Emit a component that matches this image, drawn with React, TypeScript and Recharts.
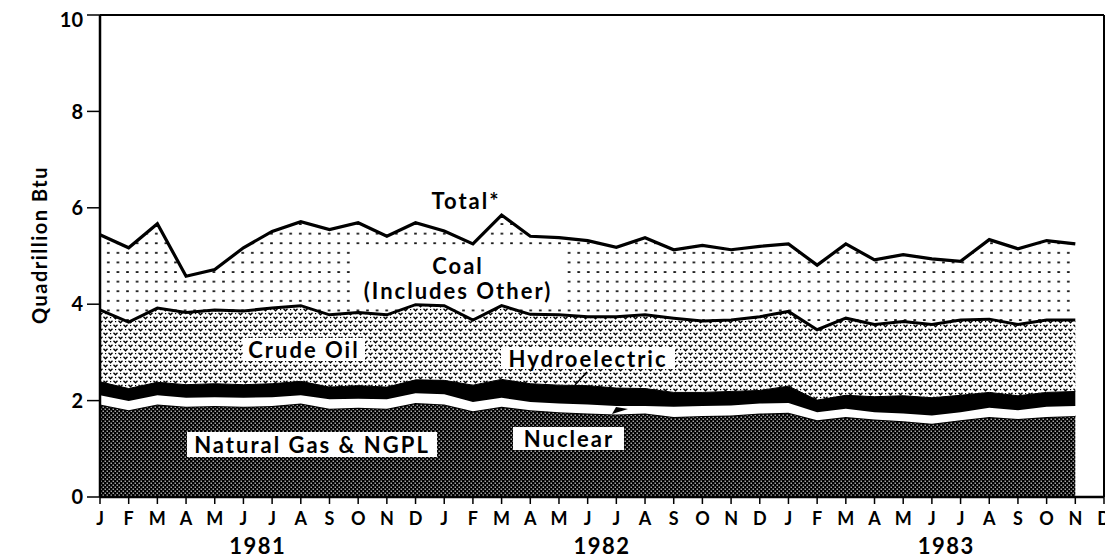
import { AreaChart, Area, XAxis, YAxis, ReferenceLine } from 'recharts'

// month letters along the bottom, year labels under the middle of each year
const MONTH_LETTERS = ['J', 'F', 'M', 'A', 'M', 'J', 'J', 'A', 'S', 'O', 'N', 'D']
const YEARS = ['1981', '1982', '1983']
const Y_TICKS = [0, 2, 4, 6, 8, 10]

// monthly values, Jan 1981 .. Nov 1983 (quadrillion Btu)
const NATURAL_GAS = [
  1.92, 1.80, 1.92, 1.87, 1.89, 1.87, 1.89, 1.94, 1.83, 1.85, 1.83, 1.95,
  1.92, 1.78, 1.87, 1.80, 1.76, 1.73, 1.71, 1.73, 1.66, 1.68, 1.69, 1.73,
  1.75, 1.59, 1.66, 1.61, 1.57, 1.52, 1.59, 1.66, 1.62, 1.66, 1.68,
]
const NUCLEAR = [
  0.19, 0.19, 0.19, 0.19, 0.18, 0.19, 0.18, 0.17, 0.20, 0.19, 0.20, 0.20,
  0.21, 0.19, 0.19, 0.17, 0.18, 0.19, 0.18, 0.16, 0.21, 0.21, 0.21, 0.21,
  0.20, 0.17, 0.17, 0.15, 0.16, 0.17, 0.17, 0.19, 0.18, 0.21, 0.21,
]
const HYDRO = [
  0.28, 0.26, 0.27, 0.27, 0.28, 0.27, 0.28, 0.29, 0.25, 0.27, 0.25, 0.28,
  0.29, 0.35, 0.38, 0.38, 0.38, 0.39, 0.37, 0.36, 0.30, 0.28, 0.29, 0.27,
  0.35, 0.25, 0.28, 0.32, 0.37, 0.37, 0.35, 0.32, 0.30, 0.30, 0.30,
]
const CRUDE_OIL = [
  1.49, 1.38, 1.54, 1.50, 1.53, 1.53, 1.57, 1.57, 1.50, 1.52, 1.50, 1.56,
  1.55, 1.35, 1.53, 1.44, 1.46, 1.43, 1.48, 1.53, 1.54, 1.48, 1.48, 1.53,
  1.55, 1.46, 1.60, 1.50, 1.54, 1.52, 1.56, 1.52, 1.48, 1.50, 1.48,
]
const COAL = [
  1.56, 1.54, 1.75, 0.75, 0.84, 1.31, 1.59, 1.74, 1.77, 1.86, 1.63, 1.70,
  1.55, 1.58, 1.88, 1.62, 1.60, 1.58, 1.44, 1.60, 1.42, 1.57, 1.46, 1.46,
  1.40, 1.34, 1.54, 1.34, 1.39, 1.36, 1.22, 1.65, 1.57, 1.65, 1.58,
]

const data = NATURAL_GAS.map((gas, i) => ({
  idx: i,
  gas,
  nuclear: NUCLEAR[i],
  hydro: HYDRO[i],
  crude: CRUDE_OIL[i],
  coal: COAL[i],
}))

const monthTicks = Array.from({ length: 36 }, (_, i) => i)
const yearTicks = YEARS.map((_, i) => i * 12 + 5.5)

const FONT = 'Lato, "DejaVu Sans", sans-serif'

function MonthTick({ x, y, payload }: any) {
  return (
    <text x={x} y={y + 12} textAnchor="middle" dominantBaseline="central"
      fontSize={18} fontWeight={700} fontFamily={FONT} fill="#000">
      {MONTH_LETTERS[payload.value % 12]}
    </text>
  )
}

function YearTick({ x, y, payload }: any) {
  const label = YEARS[Math.floor(payload.value / 12)]
  return (
    <text x={x} y={y + 10} textAnchor="middle" dominantBaseline="central"
      fontSize={22} fontWeight={700} fontFamily={FONT} fill="#000" letterSpacing={1.5}>
      {label}
    </text>
  )
}

function Label({ x, y, text, size = 22 }: { x: number; y: number; text: string; size?: number }) {
  return (
    <text x={x} y={y} textAnchor="middle" dominantBaseline="central"
      fontSize={size} fontWeight={700} fontFamily={FONT} fill="#000" letterSpacing={2}>
      {text}
    </text>
  )
}

export default function App() {
  return (
    <div style={{ position: 'relative', width: 1105, height: 552 }}>
      <AreaChart width={1105} height={552} data={data}
        margin={{ top: 7, right: 9, left: 32, bottom: 5 }}>
        <defs>
          <pattern id="gasPat" patternUnits="userSpaceOnUse" width="4" height="4">
            <rect width="4" height="4" fill="#000" />
            <rect x="0.6" y="0.6" width="1.2" height="1.2" fill="#fff" />
            <rect x="2.6" y="2.6" width="1.2" height="1.2" fill="#fff" />
          </pattern>
          <pattern id="crudePat" patternUnits="userSpaceOnUse" width="10" height="8">
            <path d="M0.5 0.8 L2.5 2.8 L4.5 0.8" stroke="#000" strokeWidth="1.3" fill="none" />
            <path d="M5.5 4.8 L7.5 6.8 L9.5 4.8" stroke="#000" strokeWidth="1.3" fill="none" />
            <rect x="2" y="5" width="1.2" height="1.2" fill="#000" />
            <rect x="7" y="1" width="1.2" height="1.2" fill="#000" />
          </pattern>
          <pattern id="coalPat" patternUnits="userSpaceOnUse" width="9.6" height="9.6">
            <rect x="3" y="4" width="2.6" height="1.7" fill="#000" />
          </pattern>
        </defs>
        <XAxis type="number" dataKey="idx" domain={[0, 35]} ticks={monthTicks} interval={0}
          height={30} tickSize={7} tick={<MonthTick />}
          axisLine={{ stroke: '#000', strokeWidth: 2.5 }} tickLine={{ stroke: '#000', strokeWidth: 1.5 }} />
        <XAxis xAxisId="yr" type="number" dataKey="idx" domain={[0, 35]} ticks={yearTicks}
          interval={0} height={28} axisLine={false} tickLine={false} tick={<YearTick />} />
        <YAxis domain={[0, 10]} ticks={Y_TICKS} width={60} tickSize={13} tickMargin={4}
          axisLine={{ stroke: '#000', strokeWidth: 2.5 }} tickLine={{ stroke: '#000', strokeWidth: 1.5 }}
          tick={{ fill: '#000', fontSize: 20, fontWeight: 700, fontFamily: FONT }} />
        <Area type="linear" dataKey="gas" stackId="1" fill="url(#gasPat)" fillOpacity={1}
          stroke="#000" strokeWidth={2} isAnimationActive={false} />
        <Area type="linear" dataKey="nuclear" stackId="1" fill="#fff" fillOpacity={1}
          stroke="none" isAnimationActive={false} />
        <Area type="linear" dataKey="hydro" stackId="1" fill="#000" fillOpacity={1}
          stroke="#000" strokeWidth={1} isAnimationActive={false} />
        <Area type="linear" dataKey="crude" stackId="1" fill="url(#crudePat)" fillOpacity={1}
          stroke="#000" strokeWidth={3} isAnimationActive={false} />
        <Area type="linear" dataKey="coal" stackId="1" fill="url(#coalPat)" fillOpacity={1}
          stroke="#000" strokeWidth={3.2} isAnimationActive={false} />
        <ReferenceLine y={10} stroke="#000" strokeWidth={2} />
        <ReferenceLine x={35} stroke="#000" strokeWidth={2} />
      </AreaChart>

      <svg width={1105} height={552} style={{ position: 'absolute', left: 0, top: 0, pointerEvents: 'none' }}>
        <text transform="translate(31,237) rotate(-90)" textAnchor="middle" dominantBaseline="central"
          fontSize={20} fontWeight={700} fontFamily={FONT} letterSpacing={1.5}>
          Quadrillion Btu
        </text>

        <Label x={458} y={192} text="Total*" />

        <rect x={344} y={238} width={214} height={57} fill="#fff" />
        <Label x={450} y={257} text="Coal" />
        <Label x={450} y={282} text="(Includes Other)" />

        <rect x={235} y={330} width={122} height={23} fill="#fff" />
        <Label x={296} y={341} text="Crude Oil" />

        <rect x={493} y={339} width={174} height={22} fill="#fff" />
        <Label x={580} y={350} text="Hydroelectric" />
        <line x1={579} y1={364} x2={567} y2={377} stroke="#000" strokeWidth={1.5} />

        <rect x={179} y={424} width={250} height={25} fill="#fff" />
        <Label x={304} y={436} text="Natural Gas & NGPL" />

        <rect x={505} y={419} width={111} height={23} fill="#fff" />
        <Label x={561} y={430} text="Nuclear" />
        <polygon points="604,406 620,401 608,399" fill="#000" />
      </svg>
    </div>
  )
}
